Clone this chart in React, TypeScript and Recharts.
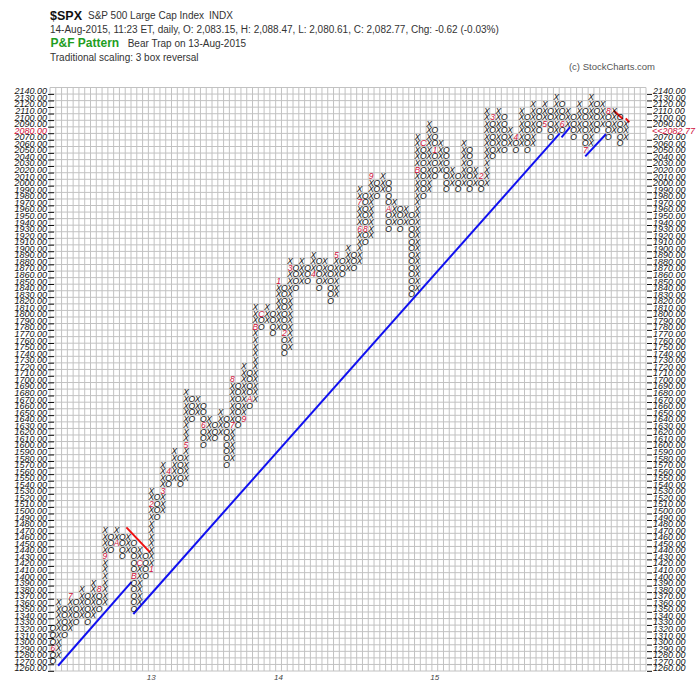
import React from "react";
import {
  CartesianGrid,
  ReferenceLine,
  Scatter,
  ScatterChart,
  XAxis,
  YAxis,
} from "recharts";

const FONT = "'Liberation Sans', Arial, sans-serif";
const RED = "#d0103a";
const INK = "#151515";

const BOX = 10;
const PRICE_LOW = 1260;
const PRICE_HIGH = 2140;
const COLUMNS = 103;
const LAST_PRICE = 2082.77;

// top box of the first (O) column
const FIRST_TOP = 1320;
// last box of every column; columns alternate O, X, O, X ...
const COLUMN_ENDS = [
  1270, 1360, 1310, 1370, 1330, 1380, 1330, 1390, 1350, 1470,
  1440, 1470, 1430, 1460, 1350, 1440, 1400, 1530, 1490, 1570,
  1540, 1590, 1540, 1680, 1640, 1670, 1600, 1640, 1610, 1650,
  1570, 1700, 1630, 1720, 1660, 1810, 1780, 1810, 1770, 1850,
  1740, 1880, 1840, 1880, 1850, 1890, 1840, 1880, 1820, 1890,
  1860, 1900, 1870, 1990, 1910, 2010, 1980, 2010, 1930, 1970,
  1930, 1960, 1830, 2070, 1980, 2090, 2010, 2060, 1990, 2020,
  1990, 2060, 1990, 2020, 1990, 2110, 2040, 2110, 2050, 2080,
  2050, 2110, 2050, 2120, 2080, 2120, 2070, 2130, 2080, 2110,
  2070, 2120, 2050, 2130, 2080, 2120, 2070, 2110, 2060, 2090,
];

// month markers drawn in place of a box
const MARK_COLS = [
  0, 3, 8, 9, 11, 14, 15, 17, 17, 19, 20, 23, 26, 31, 31, 33, 34, 35, 36, 39,
  40, 41, 45, 49, 53, 53, 54, 55, 58, 63, 64, 66, 74, 76, 80, 85, 88, 92, 96,
];
const MARK_PRICES = [
  1290, 1370, 1380, 1430, 1450, 1400, 1420, 1410, 1510, 1530, 1560, 1600, 1630,
  1630, 1700, 1640, 1670, 1780, 1800, 1850, 1770, 1870, 1860, 1890, 1930, 1970,
  1930, 2010, 1960, 2020, 2060, 2050, 2010, 2100, 2070, 2090, 2090, 2050, 2110,
];
const MARK_LABELS = [
  "6", "7", "8", "9", "A", "B", "C", "1", "2", "3", "4", "5", "6", "7", "8",
  "9", "A", "B", "C", "1", "2", "3", "4", "5", "6", "7", "8", "9", "A", "B",
  "C", "1", "2", "3", "4", "5", "6", "7", "8",
];

const YEAR_COLS = [17, 39, 66];
const YEAR_LABELS = ["13", "14", "15"];

// trend line end points as [column, price]
const SUPPORT_LINES = [
  [[0.9, 1263], [13.6, 1391]],
  [[13.9, 1342], [87.6, 2075]],
  [[87.9, 2069], [89.4, 2085]],
  [[92.0, 2040], [95.6, 2074]],
];
const RESISTANCE_LINES = [
  [[12.7, 1474], [16.8, 1436]],
  [[96.9, 2110], [98.5, 2097]],
  [[99.0, 2098], [99.6, 2092]],
];

type Box = { col: number; price: number; glyph: string; mark: boolean };

const boxes: Box[] = [];
COLUMN_ENDS.forEach((end, col) => {
  const isX = col % 2 === 1;
  const start =
    col === 0 ? FIRST_TOP : isX ? COLUMN_ENDS[col - 1] + BOX : COLUMN_ENDS[col - 1] - BOX;
  const step = isX ? BOX : -BOX;
  for (let p = start; isX ? p <= end : p >= end; p += step) {
    const m = MARK_COLS.findIndex((c, i) => c === col && MARK_PRICES[i] === p);
    boxes.push({
      col,
      price: p,
      glyph: m >= 0 ? MARK_LABELS[m] : isX ? "X" : "O",
      mark: m >= 0,
    });
  }
});

const ROW_COUNT = (PRICE_HIGH - PRICE_LOW) / BOX + 1;
const PRICE_TICKS = Array.from({ length: ROW_COUNT }, (_, i) => PRICE_LOW + i * BOX);
const ROW_EDGES = Array.from({ length: ROW_COUNT + 1 }, (_, i) => PRICE_LOW - BOX / 2 + i * BOX);
const COL_EDGES = Array.from({ length: COLUMNS + 1 }, (_, i) => i - 0.5);
const X_DOMAIN = [-0.5, COLUMNS - 0.5];
const Y_DOMAIN = [PRICE_LOW - BOX / 2, PRICE_HIGH + BOX / 2];
const LAST_BOX = Math.floor(LAST_PRICE / BOX) * BOX;

const Glyph = (props: any) => {
  const { cx, cy, payload } = props;
  if (cx == null || cy == null) return null;
  return (
    <text
      x={cx}
      y={cy + 3.1}
      textAnchor="middle"
      fontSize={8.5}
      fontStyle="italic"
      fontFamily={FONT}
      fill={payload.mark ? RED : INK}
    >
      {payload.glyph}
    </text>
  );
};

const LeftTick = (props: any) => {
  const { x, y, payload } = props;
  const red = payload.value === LAST_BOX;
  return (
    <g>
      <line x1={x - 2} x2={x + 4} y1={y + 3.6} y2={y + 3.6} stroke="#111" strokeWidth={1} />
      <text
        x={x - 3}
        y={y + 3.6}
        textAnchor="end"
        fontSize={9}
        fontStyle="italic"
        fontFamily={FONT}
        fill={red ? RED : INK}
      >
        {payload.value.toFixed(2)}
      </text>
    </g>
  );
};

const RightTick = (props: any) => {
  const { x, y, payload } = props;
  if (payload.value === LAST_BOX) {
    return (
      <text x={x + 6} y={y + 3.6} fontSize={9} fontStyle="italic" fontFamily={FONT} fill={RED}>
        {"<<" + LAST_PRICE.toFixed(2)}
      </text>
    );
  }
  return (
    <g>
      <line x1={x + 1} x2={x + 6} y1={y + 3.6} y2={y + 3.6} stroke="#111" strokeWidth={1} />
      <text x={x + 7} y={y + 3.6} fontSize={9} fontStyle="italic" fontFamily={FONT} fill={INK}>
        {payload.value.toFixed(2)}
      </text>
    </g>
  );
};

const YearTick = (props: any) => {
  const { x, y, payload } = props;
  const i = YEAR_COLS.indexOf(payload.value);
  return (
    <text x={x} y={y + 9} textAnchor="middle" fontSize={8} fontStyle="italic" fontFamily={FONT} fill="#444">
      {YEAR_LABELS[i]}
    </text>
  );
};

export default function App() {
  return (
    <div style={{ position: "absolute", left: 0, top: 0, width: 700, height: 684, background: "#fff" }}>
      <ScatterChart width={700} height={684} margin={{ top: 87.5, right: 0, bottom: 0, left: 0 }}>
        <XAxis
          xAxisId="main"
          type="number"
          dataKey="col"
          domain={X_DOMAIN}
          ticks={YEAR_COLS}
          interval={0}
          allowDataOverflow
          height={13}
          axisLine={false}
          tickLine={false}
          tickSize={0}
          tickMargin={0}
          tick={<YearTick />}
        />
        <YAxis
          yAxisId="left"
          orientation="left"
          type="number"
          dataKey="price"
          domain={Y_DOMAIN}
          ticks={PRICE_TICKS}
          interval={0}
          allowDataOverflow
          width={50}
          axisLine={false}
          tickLine={false}
          tickSize={0}
          tickMargin={0}
          tick={<LeftTick />}
        />
        <YAxis
          yAxisId="right"
          orientation="right"
          type="number"
          domain={Y_DOMAIN}
          ticks={PRICE_TICKS}
          interval={0}
          allowDataOverflow
          width={54}
          axisLine={false}
          tickLine={false}
          tickSize={0}
          tickMargin={0}
          tick={<RightTick />}
        />
        <XAxis
          xAxisId="grid"
          type="number"
          dataKey="col"
          domain={X_DOMAIN}
          ticks={COL_EDGES}
          interval={0}
          allowDataOverflow
          height={0}
          hide
        />
        <YAxis
          yAxisId="grid"
          type="number"
          dataKey="price"
          domain={Y_DOMAIN}
          ticks={ROW_EDGES}
          interval={0}
          allowDataOverflow
          width={0}
          hide
        />
        <CartesianGrid xAxisId="grid" yAxisId="grid" stroke="#c2c2c2" />
        <Scatter
          data={boxes}
          xAxisId="main"
          yAxisId="left"
          shape={(p: any) => <Glyph {...p} />}
          isAnimationActive={false}
        />
        {SUPPORT_LINES.map((s, i) => (
          <ReferenceLine
            key={"s" + i}
            xAxisId="main"
            yAxisId="left"
            segment={[
              { x: s[0][0], y: s[0][1] },
              { x: s[1][0], y: s[1][1] },
            ]}
            stroke="#1010f0"
            strokeWidth={2}
            ifOverflow="visible"
          />
        ))}
        {RESISTANCE_LINES.map((s, i) => (
          <ReferenceLine
            key={"r" + i}
            xAxisId="main"
            yAxisId="left"
            segment={[
              { x: s[0][0], y: s[0][1] },
              { x: s[1][0], y: s[1][1] },
            ]}
            stroke="#f01010"
            strokeWidth={2}
            ifOverflow="visible"
          />
        ))}
      </ScatterChart>
      <svg
        width={700}
        height={80}
        style={{ position: "absolute", left: 0, top: 0, pointerEvents: "none" }}
        fontFamily={FONT}
      >
        <text x={50} y={19.5} fontSize={12.5} fontWeight="bold" fill="#111">$SPX</text>
        <text x={88} y={19} fontSize={10} fill="#333">S&amp;P 500 Large Cap Index</text>
        <text x={209} y={19} fontSize={10} fill="#333">INDX</text>
        <text x={50} y={33.3} fontSize={10} fill="#333">
          14-Aug-2015, 11:23 ET, daily, O: 2,083.15, H: 2,088.47, L: 2,080.61, C: 2,082.77, Chg: -0.62 (-0.03%)
        </text>
        <text x={50.5} y={46.7} fontSize={12} fontWeight="bold" fill="#1e9e1e">P&amp;F Pattern</text>
        <text x={127.7} y={46.5} fontSize={10} fill="#333">Bear Trap on 13-Aug-2015</text>
        <text x={50} y={60.7} fontSize={10} fill="#333">Traditional scaling: 3 box reversal</text>
        <text x={655} y={70} fontSize={9.5} fill="#555" textAnchor="end">(c) StockCharts.com</text>
      </svg>
    </div>
  );
}
